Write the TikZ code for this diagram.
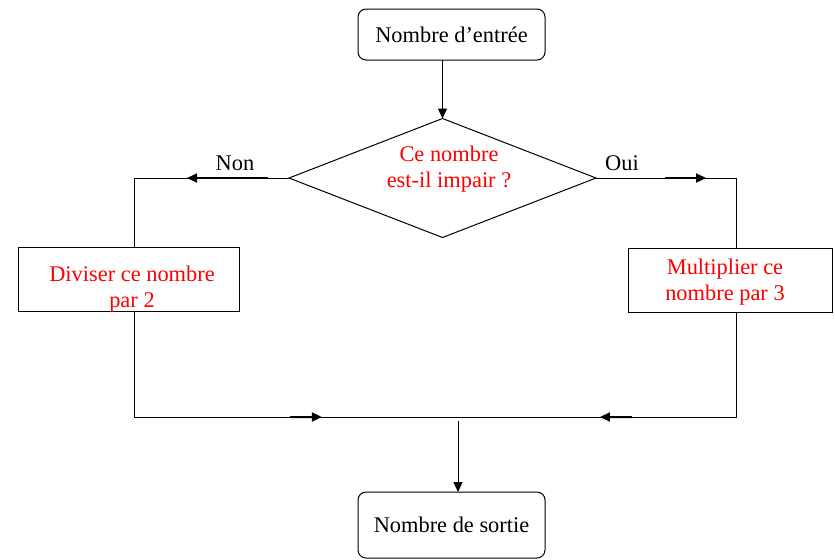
\documentclass[tikz,border=0pt]{standalone}
\usepackage{fontspec}
\setmainfont{Liberation Serif}
\usetikzlibrary{shapes.geometric,arrows.meta,calc}
\begin{document}
\begin{tikzpicture}[x=0.5pt,y=-0.5pt,
  every node/.style={font=\fontsize{11.2}{12.8}\selectfont, inner sep=0pt, outer sep=0pt},
  line/.style={draw=black, line width=0.5pt},
  tip/.style={-{Triangle[length=5pt,width=4.5pt]}},
  thickarrow/.style={draw=black, line width=1pt, tip},
  rbox/.style={line, rounded corners=4pt, minimum width=93.5pt},
  sbox/.style={line, minimum height=32pt},
  redtext/.style={text=red, align=center}]
\useasboundingbox (0,0) rectangle (835,559);
% nodes
\node[rbox, minimum height=25.5pt] (in) at (451.5,34.5) {Nombre d’entrée};
\node[line, diamond, aspect=2.58, minimum width=153.5pt, minimum height=59.5pt] (d) at (442.5,178) {};
\node[redtext] (dt) at (449,169) {Ce nombre\\est-il impair ?};
\node[sbox, minimum width=110.5pt] (lb) at (128.5,279) {};
\node[redtext] (lbt) at (132,289) {Diviser ce nombre\\par 2};
\node[sbox, minimum width=102pt] (rb) at (730,280) {};
\node[redtext] (rbt) at (725,282) {Multiplier ce\\nombre par 3};
\node[rbox, minimum height=33pt] (out) at (451.5,525) {Nombre de sortie};
\node (non) at (235,163) {Non};
\node (oui) at (622,163) {Oui};
% corner coordinates
\coordinate (cl) at (134,178);
\coordinate (cr) at (736,178);
\coordinate (bl) at (134,417);
\coordinate (br) at (736,417);
\coordinate (mj) at (458,421);
% connectors
\draw[line, tip] (in.south -| d.north) -- (d.north);
\draw[line] (d.west) -- (cl) -- (cl |- lb.north);
\draw[line] (d.east) -- (cr) -- (cr |- rb.north);
\draw[line] (cl |- lb.south) -- (bl) -- (br) -- (cr |- rb.south);
\draw[thickarrow] ($(d.west)!0.135!(cl)$) -- ($(d.west)!0.658!(cl)$);
\draw[thickarrow] ($(d.east)!0.49!(cr)$) -- ($(d.east)!0.786!(cr)$);
\draw[thickarrow] ($(bl)!0.259!(br)$) -- ($(bl)!0.312!(br)$);
\draw[thickarrow] ($(bl)!0.827!(br)$) -- ($(bl)!0.774!(br)$);
\draw[line, tip] (mj) -- (mj |- out.north);
\end{tikzpicture}
\end{document}
